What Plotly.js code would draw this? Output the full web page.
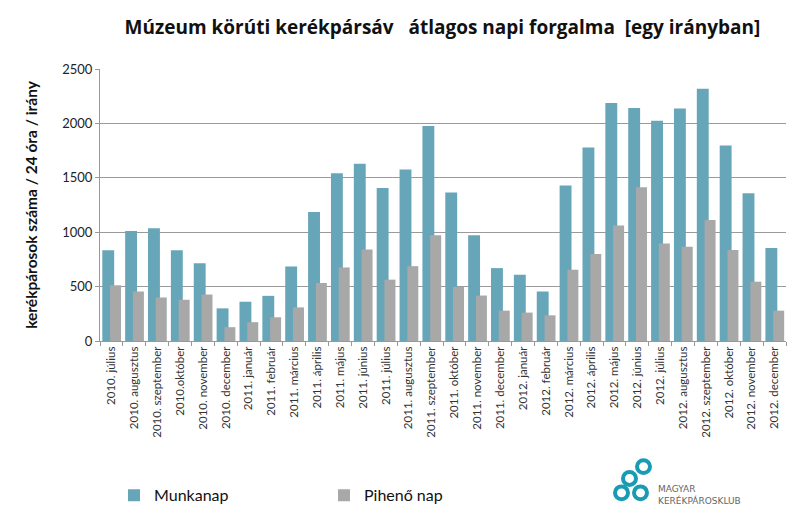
<!DOCTYPE html>
<html>
<head>
<meta charset="utf-8">
<script src="https://cdn.plot.ly/plotly-3.0.1.min.js"></script>
<style>
  body { margin: 0; background: #fff; }
  #plot { width: 800px; height: 525px; }
</style>
</head>
<body>
<div id="plot"></div>
<script>
// havi atlagok, Muzeum korut
var months = ['2010. július', '2010. augusztus', '2010. szeptember', '2010.október', '2010. november', '2010. december',
  '2011. január', '2011. február', '2011. március', '2011. április', '2011. május', '2011. június',
  '2011. július', '2011. augusztus', '2011. szeptember', '2011. október', '2011. november', '2011. december',
  '2012. január', '2012. február', '2012. március', '2012. április', '2012. május', '2012. június',
  '2012. július', '2012. augusztus', '2012. szeptember', '2012. október', '2012. november', '2012. december'];

var munkanap = [833, 1012, 1036, 833, 715, 300, 361, 415, 685, 1185, 1542, 1630,
  1406, 1576, 1976, 1364, 973, 670, 609, 455, 1430, 1779, 2188, 2142,
  2024, 2136, 2318, 1797, 1357, 854];

var pihenonap = [512, 455, 400, 379, 427, 127, 173, 218, 309, 533, 676, 842,
  564, 688, 973, 497, 418, 279, 261, 236, 655, 800, 1061, 1412,
  897, 867, 1112, 836, 545, 279];

var trace1 = {
  x: months,
  y: munkanap,
  name: 'Munkanap',
  type: 'bar',
  offset: -0.40,
  width: 0.52,
  marker: { color: '#67a6b8' }
};

var trace2 = {
  x: months,
  y: pihenonap,
  name: 'Pihenő nap',
  type: 'bar',
  offset: -0.06,
  width: 0.48,
  marker: { color: '#a8a8a8' }
};

var data = [trace1, trace2];

// pixel -> paper helpers (plot area 100..786 x 69..344)
function px(v) { return (v - 100) / 686; }
function py(v) { return (344 - v) / 275; }

var rings = [[621.5, 497.5], [640.5, 497.5], [629.5, 483], [643.5, 471]];
var shapes = rings.map(function (c) {
  return {
    type: 'circle', xref: 'paper', yref: 'paper',
    x0: px(c[0] - 6.5), x1: px(c[0] + 6.5), y0: py(c[1] + 6.5), y1: py(c[1] - 6.5),
    line: { color: '#1a9bb4', width: 4 }
  };
});

var layout = {
  width: 800,
  height: 525,
  paper_bgcolor: '#fff',
  plot_bgcolor: '#fff',
  margin: { l: 100, r: 14, t: 69, b: 181 },
  font: { family: 'Lato, sans-serif', color: '#222' },
  title: {
    text: 'Múzeum körúti kerékpársáv\u00a0\u00a0 átlagos napi forgalma\u00a0 [egy irányban]',
    font: { family: '"Liberation Sans Narrow", "Open Sans", sans-serif', size: 19, color: '#111', weight: 'bold' },
    x: 0.553, xanchor: 'center', y: 0.947, yanchor: 'middle'
  },
  barmode: 'overlay',
  showlegend: true,
  legend: {
    orientation: 'h',
    x: px(114), xanchor: 'left',
    y: py(500), yanchor: 'middle',
    font: { size: 16, color: '#111' },
    itemwidth: 30,
    entrywidth: 165,
    traceorder: 'normal'
  },
  xaxis: {
    type: 'category',
    tickangle: -90,
    tickfont: { size: 11.5, color: '#333' },
    ticks: 'outside',
    tickson: 'boundaries',
    ticklen: 4,
    tickcolor: '#999',
    showline: true,
    linecolor: '#999',
    showgrid: false
  },
  yaxis: {
    range: [0, 2500],
    dtick: 500,
    tickfont: { size: 13, color: '#222' },
    ticks: 'outside',
    ticklen: 4,
    tickcolor: '#999',
    showline: true,
    linecolor: '#999',
    gridcolor: '#9a9a9a',
    zeroline: false,
    title: {
      text: 'kerékpárosok száma / 24 óra / irány',
      font: { size: 15.5, color: '#111', weight: 'bold' },
      standoff: 20
    }
  },
  shapes: shapes,
  annotations: [
    { text: 'MAGYAR', xref: 'paper', yref: 'paper', x: px(656), y: py(494), xanchor: 'left', yanchor: 'middle',
      showarrow: false, font: { family: 'DejaVu Sans, sans-serif', size: 9, color: '#666' } },
    { text: 'KERÉKPÁROSKLUB', xref: 'paper', yref: 'paper', x: px(656), y: py(505), xanchor: 'left', yanchor: 'middle',
      showarrow: false, font: { family: 'DejaVu Sans, sans-serif', size: 9, color: '#666' } }
  ]
};

Plotly.newPlot('plot', data, layout, { displayModeBar: false });
</script>
</body>
</html>
